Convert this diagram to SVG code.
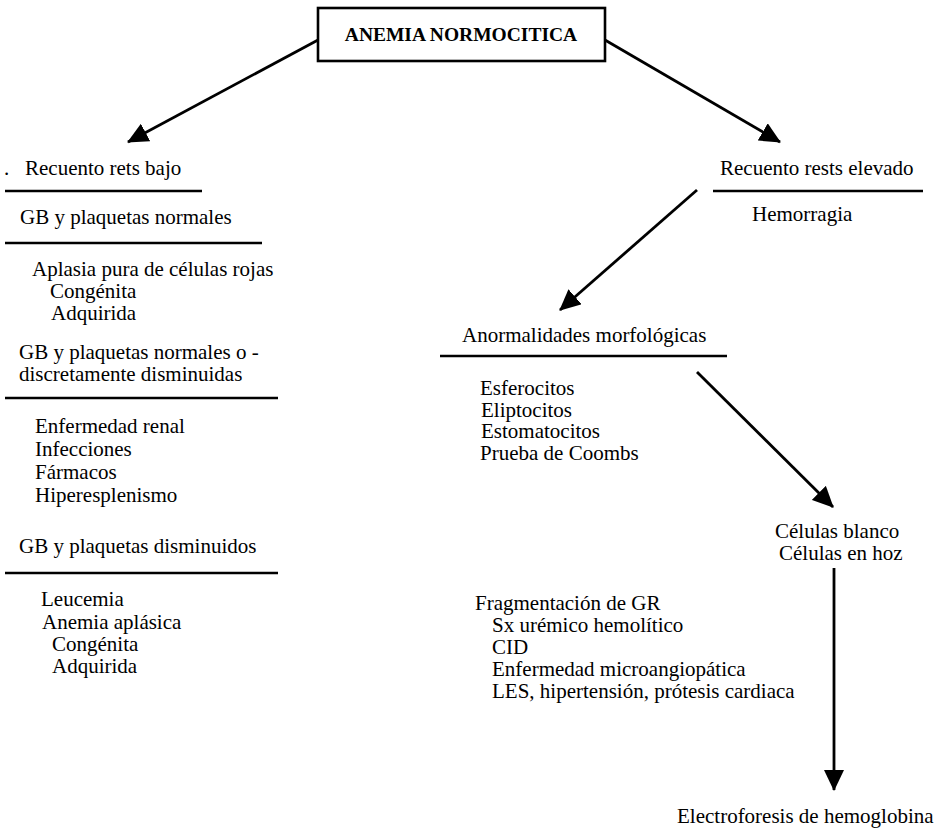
<svg xmlns="http://www.w3.org/2000/svg" width="936" height="831" viewBox="0 0 936 831">
<style>
text{font-family:'Liberation Serif','DejaVu Serif','Noto Serif','Times New Roman',Times,serif;font-size:21px;fill:#000}
.title{font-weight:bold;font-size:19.5px}
.rule{stroke:#000;stroke-width:2.5;fill:none}
.conn{stroke:#000;stroke-width:2.8;fill:none}
.box{stroke:#000;stroke-width:2.6;fill:#fff}
</style>
<defs>
<marker id="ah" markerUnits="userSpaceOnUse" markerWidth="21" markerHeight="20" refX="20" refY="10" orient="auto">
<path d="M0,0 L21,10 L0,20 z" fill="#000"/>
</marker>
</defs>
<g id="connectors">
<line class="conn" x1="318" y1="40" x2="128" y2="142" marker-end="url(#ah)"/>
<line class="conn" x1="605" y1="40" x2="780" y2="142" marker-end="url(#ah)"/>
<line class="conn" x1="697" y1="190" x2="560" y2="310" marker-end="url(#ah)"/>
<line class="conn" x1="697" y1="372" x2="833" y2="507" marker-end="url(#ah)"/>
<line class="conn" x1="834" y1="568" x2="834" y2="790" marker-end="url(#ah)"/>
</g>
<g id="title" font-family="'Liberation Serif','DejaVu Serif',serif">
<rect class="box" x="318" y="8" width="287" height="53"/>
<text class="title" x="461" y="41" text-anchor="middle">ANEMIA NORMOCITICA</text>
</g>
<g id="left-low" font-family="'Liberation Serif','DejaVu Serif',serif">
<text x="4" y="175">.</text>
<text x="25" y="175">Recuento rets bajo</text>
<line class="rule" x1="5" y1="191" x2="202" y2="191"/>
</g>
<g id="left-gb-normal" font-family="'Liberation Serif','DejaVu Serif',serif">
<text x="20" y="224">GB y plaquetas normales</text>
<line class="rule" x1="5" y1="243" x2="262" y2="243"/>
<text x="32" y="276">Aplasia pura de células rojas</text>
<text x="50" y="298">Congénita</text>
<text x="51" y="320">Adquirida</text>
</g>
<g id="left-gb-discrete" font-family="'Liberation Serif','DejaVu Serif',serif">
<text x="19" y="359">GB y plaquetas normales o -</text>
<text x="19" y="381">discretamente disminuidas</text>
<line class="rule" x1="5" y1="398" x2="278" y2="398"/>
<text x="35" y="433">Enfermedad renal</text>
<text x="35" y="456">Infecciones</text>
<text x="35" y="479">Fármacos</text>
<text x="35" y="502">Hiperesplenismo</text>
</g>
<g id="left-gb-low" font-family="'Liberation Serif','DejaVu Serif',serif">
<text x="19" y="553">GB y plaquetas disminuidos</text>
<line class="rule" x1="5" y1="573" x2="278" y2="573"/>
<text x="41" y="606">Leucemia</text>
<text x="42" y="629">Anemia aplásica</text>
<text x="52" y="651">Congénita</text>
<text x="52" y="673">Adquirida</text>
</g>
<g id="right-high" font-family="'Liberation Serif','DejaVu Serif',serif">
<text x="720" y="175">Recuento rests elevado</text>
<line class="rule" x1="713" y1="191" x2="923" y2="191"/>
<text x="752" y="221">Hemorragia</text>
</g>
<g id="morph" font-family="'Liberation Serif','DejaVu Serif',serif">
<text x="462" y="342">Anormalidades morfológicas</text>
<line class="rule" x1="440" y1="356" x2="727" y2="356"/>
<text x="480" y="395">Esferocitos</text>
<text x="481" y="417">Eliptocitos</text>
<text x="481" y="438">Estomatocitos</text>
<text x="480" y="460">Prueba de Coombs</text>
</g>
<g id="target-cells" font-family="'Liberation Serif','DejaVu Serif',serif">
<text x="775" y="538">Células blanco</text>
<text x="779" y="560">Células en hoz</text>
</g>
<g id="fragmentation" font-family="'Liberation Serif','DejaVu Serif',serif">
<text x="475" y="610">Fragmentación de GR</text>
<text x="492" y="632">Sx urémico hemolítico</text>
<text x="492" y="654">CID</text>
<text x="492" y="676">Enfermedad microangiopática</text>
<text x="492" y="698">LES, hipertensión, prótesis cardiaca</text>
</g>
<g id="electro" font-family="'Liberation Serif','DejaVu Serif',serif">
<text x="677" y="823">Electroforesis de hemoglobina</text>
</g>
</svg>
